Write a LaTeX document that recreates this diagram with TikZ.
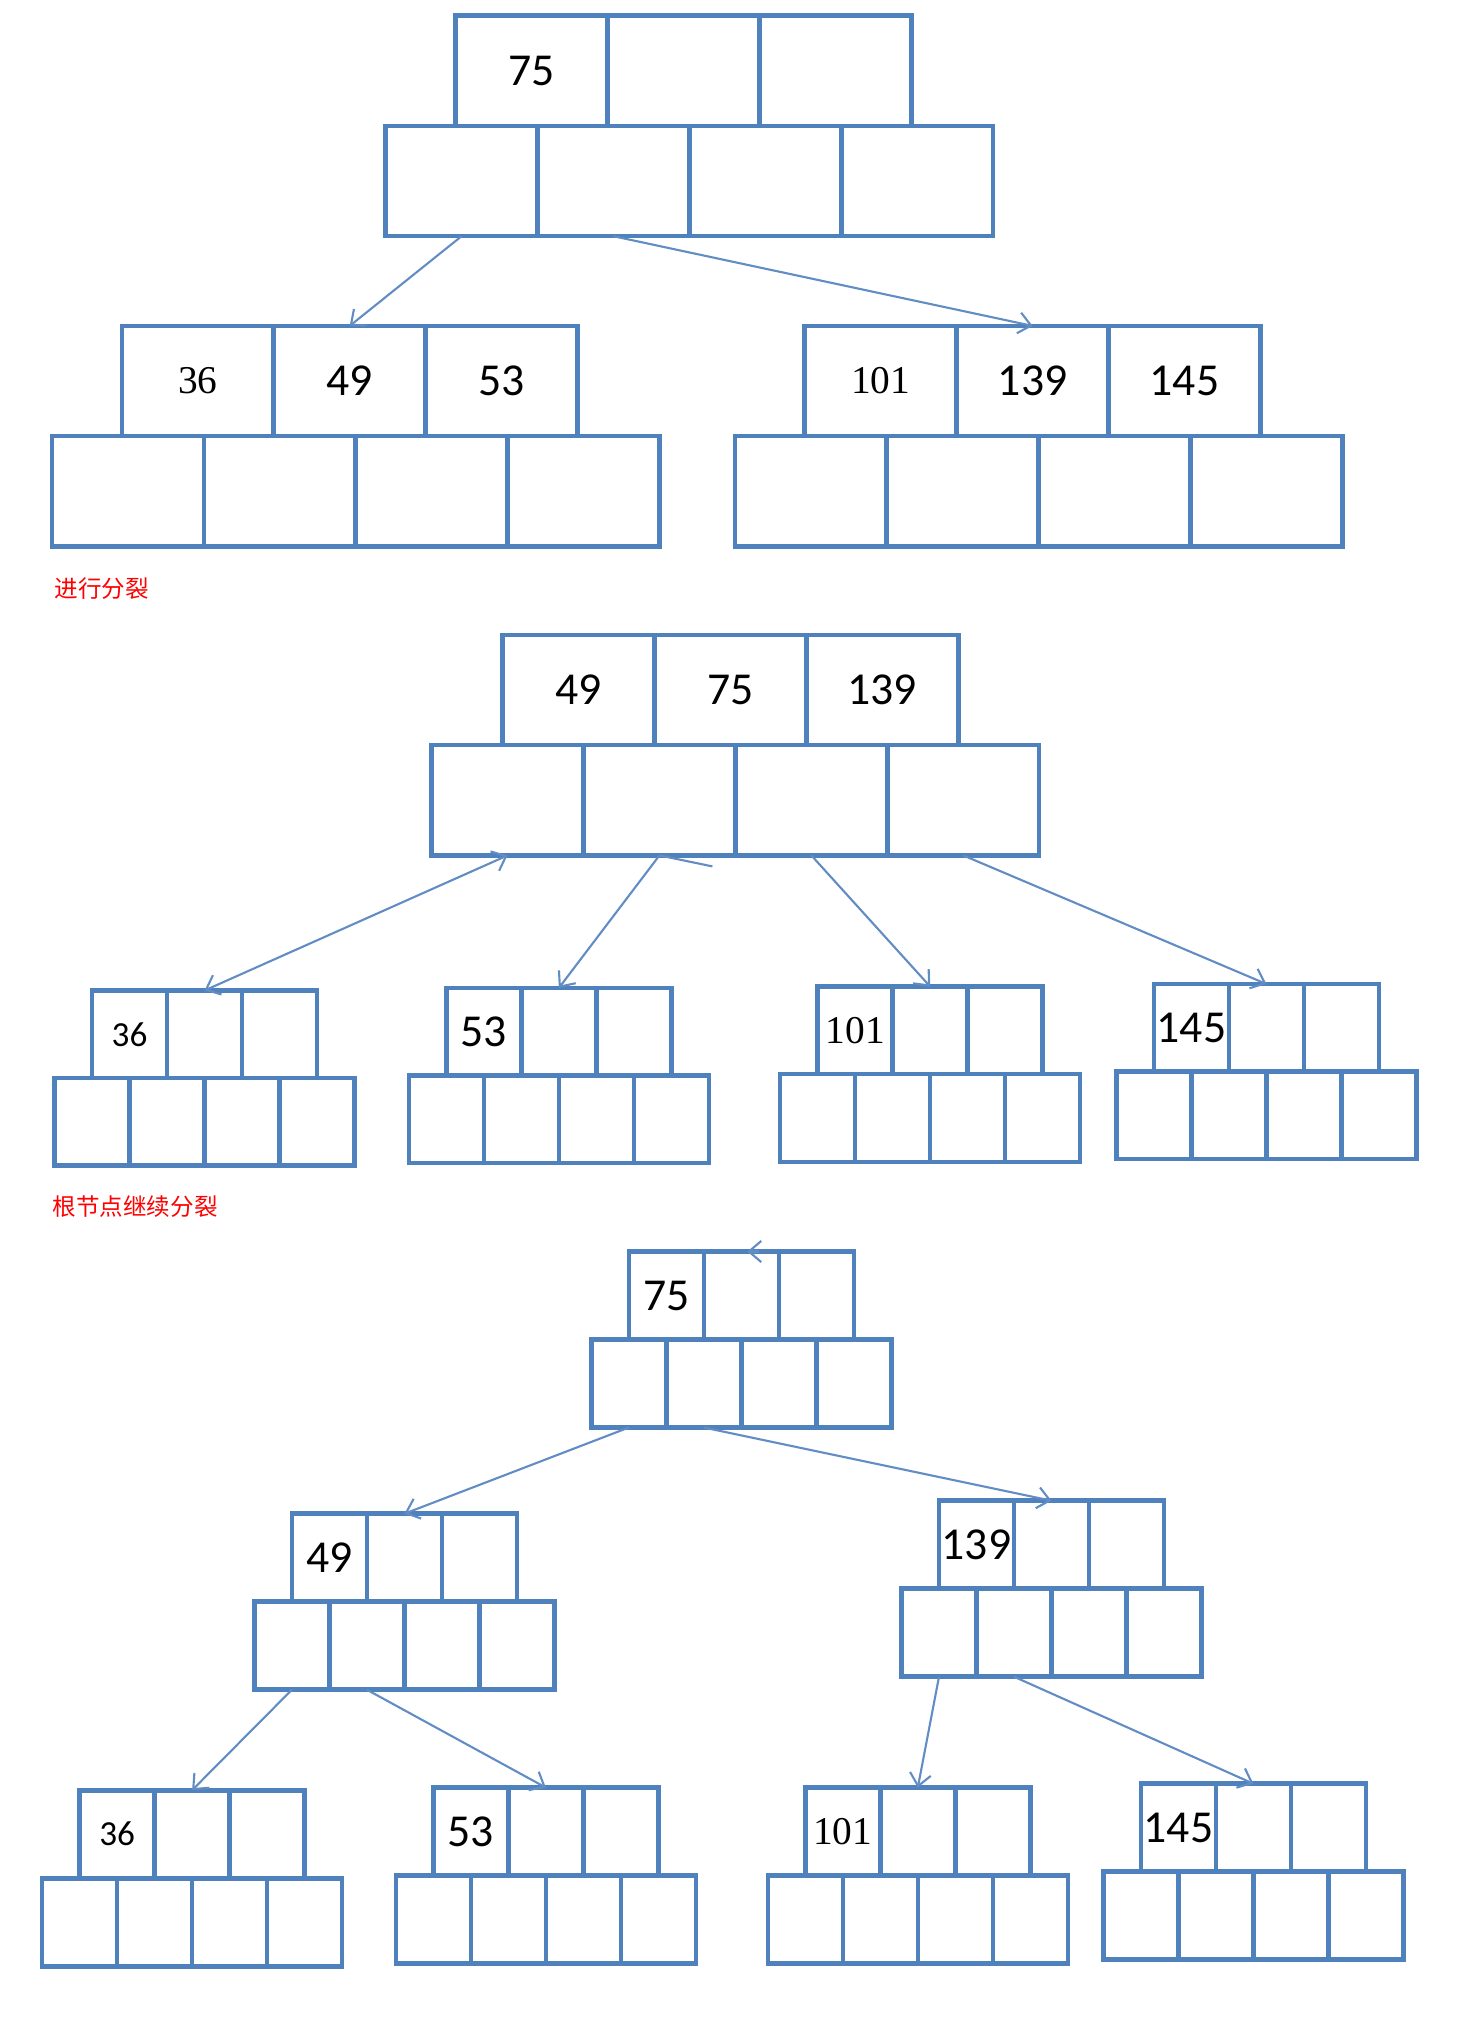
\documentclass[tikz,border=0pt]{standalone}
\usepackage{fontspec}
\setmainfont{Carlito}
\newfontfamily\sr{Liberation Serif}
\newfontfamily\cjk{Noto Sans CJK SC}
\usetikzlibrary{arrows.meta,calc}
\definecolor{bblue}{RGB}{79,129,189}
\definecolor{lblue}{RGB}{98,141,196}
\newcommand{\srn}[1]{{\sr\fontsize{11.2}{11.2}\selectfont #1}}
\newcommand{\smn}[1]{{\fontsize{10}{10}\selectfont #1}}
% name, centre x, top y, cell width, cell height, three keys, shift of key row
\newcommand{\bnode}[9]{%
  \node[cell,minimum width={#4*0.01cm},minimum height={#5*0.01cm}] (#1-k1) at ({#2-#4+#9},{#3+#5/2}) {#6};
  \node[cell,minimum width={#4*0.01cm},minimum height={#5*0.01cm}] (#1-k2) at ({#2+#9},{#3+#5/2}) {#7};
  \node[cell,minimum width={#4*0.01cm},minimum height={#5*0.01cm}] (#1-k3) at ({#2+#4+#9},{#3+#5/2}) {#8};
  \foreach \i in {1,...,4}
    \node[cell,minimum width={#4*0.01cm},minimum height={#5*0.01cm}] (#1-c\i) at ({#2+(\i-2.5)*#4},{#3+1.5*#5}) {};
}

\begin{document}
\begin{tikzpicture}[x=0.01cm,y=-0.01cm,
  >={Straight Barb[length=3.5pt,width=6pt]},
  cell/.style={draw=bblue,line width=1.3pt,inner sep=0,outer sep=0,font=\fontsize{13}{13}\selectfont},
  link/.style={draw=lblue,line width=0.6pt},
  note/.style={red,inner sep=0,anchor=west,font=\cjk\fontsize{6.7}{6.7}\selectfont}]
\useasboundingbox (0,0) rectangle (1476,2036);

\bnode{A75}{689.4}{15.6}{151.9}{110.3}{75}{}{}{-6}
\bnode{A36}{355.7}{325.9}{151.9}{110.3}{\srn{36}}{49}{53}{-6}
\bnode{A101}{1038.6}{325.9}{151.9}{110.3}{\srn{101}}{139}{145}{-6}
\draw[link,->] (A75-c1.south) -- (A36-k2.north);
\draw[link,->] (A75-c2.south) -- (A101-k2.north);
\node[note] (split1) at (54,589) {进行分裂};

\bnode{B49}{735.4}{634.8}{151.9}{110.3}{49}{75}{139}{-5}
\bnode{B36}{204.5}{990.5}{75}{87.6}{\smn{36}}{}{}{0}
\bnode{B53}{558.9}{987.9}{75}{87.6}{53}{}{}{0}
\bnode{B101}{930.2}{986.6}{75}{87.6}{\srn{101}}{}{}{0}
\bnode{B145}{1266.4}{984}{75}{87.6}{145}{}{}{0}
\draw[link,<->] (B49-c1.south) -- (B36-k2.north);
\draw[link,->] (B49-c2.south) -- (B53-k2.north);
\draw[link] (B49-c2.south) -- ++(53,11);
\draw[link,->] (B49-c3.south) -- (B101-k2.north);
\draw[link,->] (B49-c4.south) -- (B145-k2.north);
\node[note] (split2) at (52,1207) {根节点继续分裂};

\bnode{C75}{741.3}{1251.5}{75}{88}{75}{}{}{0}
\bnode{C49}{404.4}{1513.7}{75}{88}{49}{}{}{0}
\bnode{C139}{1051.5}{1500.7}{75}{88}{139}{}{}{0}
\bnode{C36}{192.1}{1790.2}{75}{88}{\smn{36}}{}{}{0}
\bnode{C53}{545.9}{1787.6}{75}{88}{53}{}{}{0}
\bnode{C101}{917.8}{1787.6}{75}{88}{\srn{101}}{}{}{0}
\bnode{C145}{1253.4}{1783.7}{75}{88}{145}{}{}{0}
\draw[link,->] ($(C75-k2.north)+(18,0)$) -- ($(C75-k2.north)+(6,0)$);
\draw[link,->] (C75-c1.south) -- (C49-k2.north);
\draw[link,->] (C75-c2.south) -- (C139-k2.north);
\draw[link,->] (C49-c1.south) -- (C36-k2.north);
\draw[link,->] (C49-c2.south) -- (C53-k2.north);
\draw[link,->] (C139-c1.south) -- (C101-k2.north);
\draw[link,->] (C139-c2.south) -- (C145-k2.north);
\end{tikzpicture}
\end{document}
